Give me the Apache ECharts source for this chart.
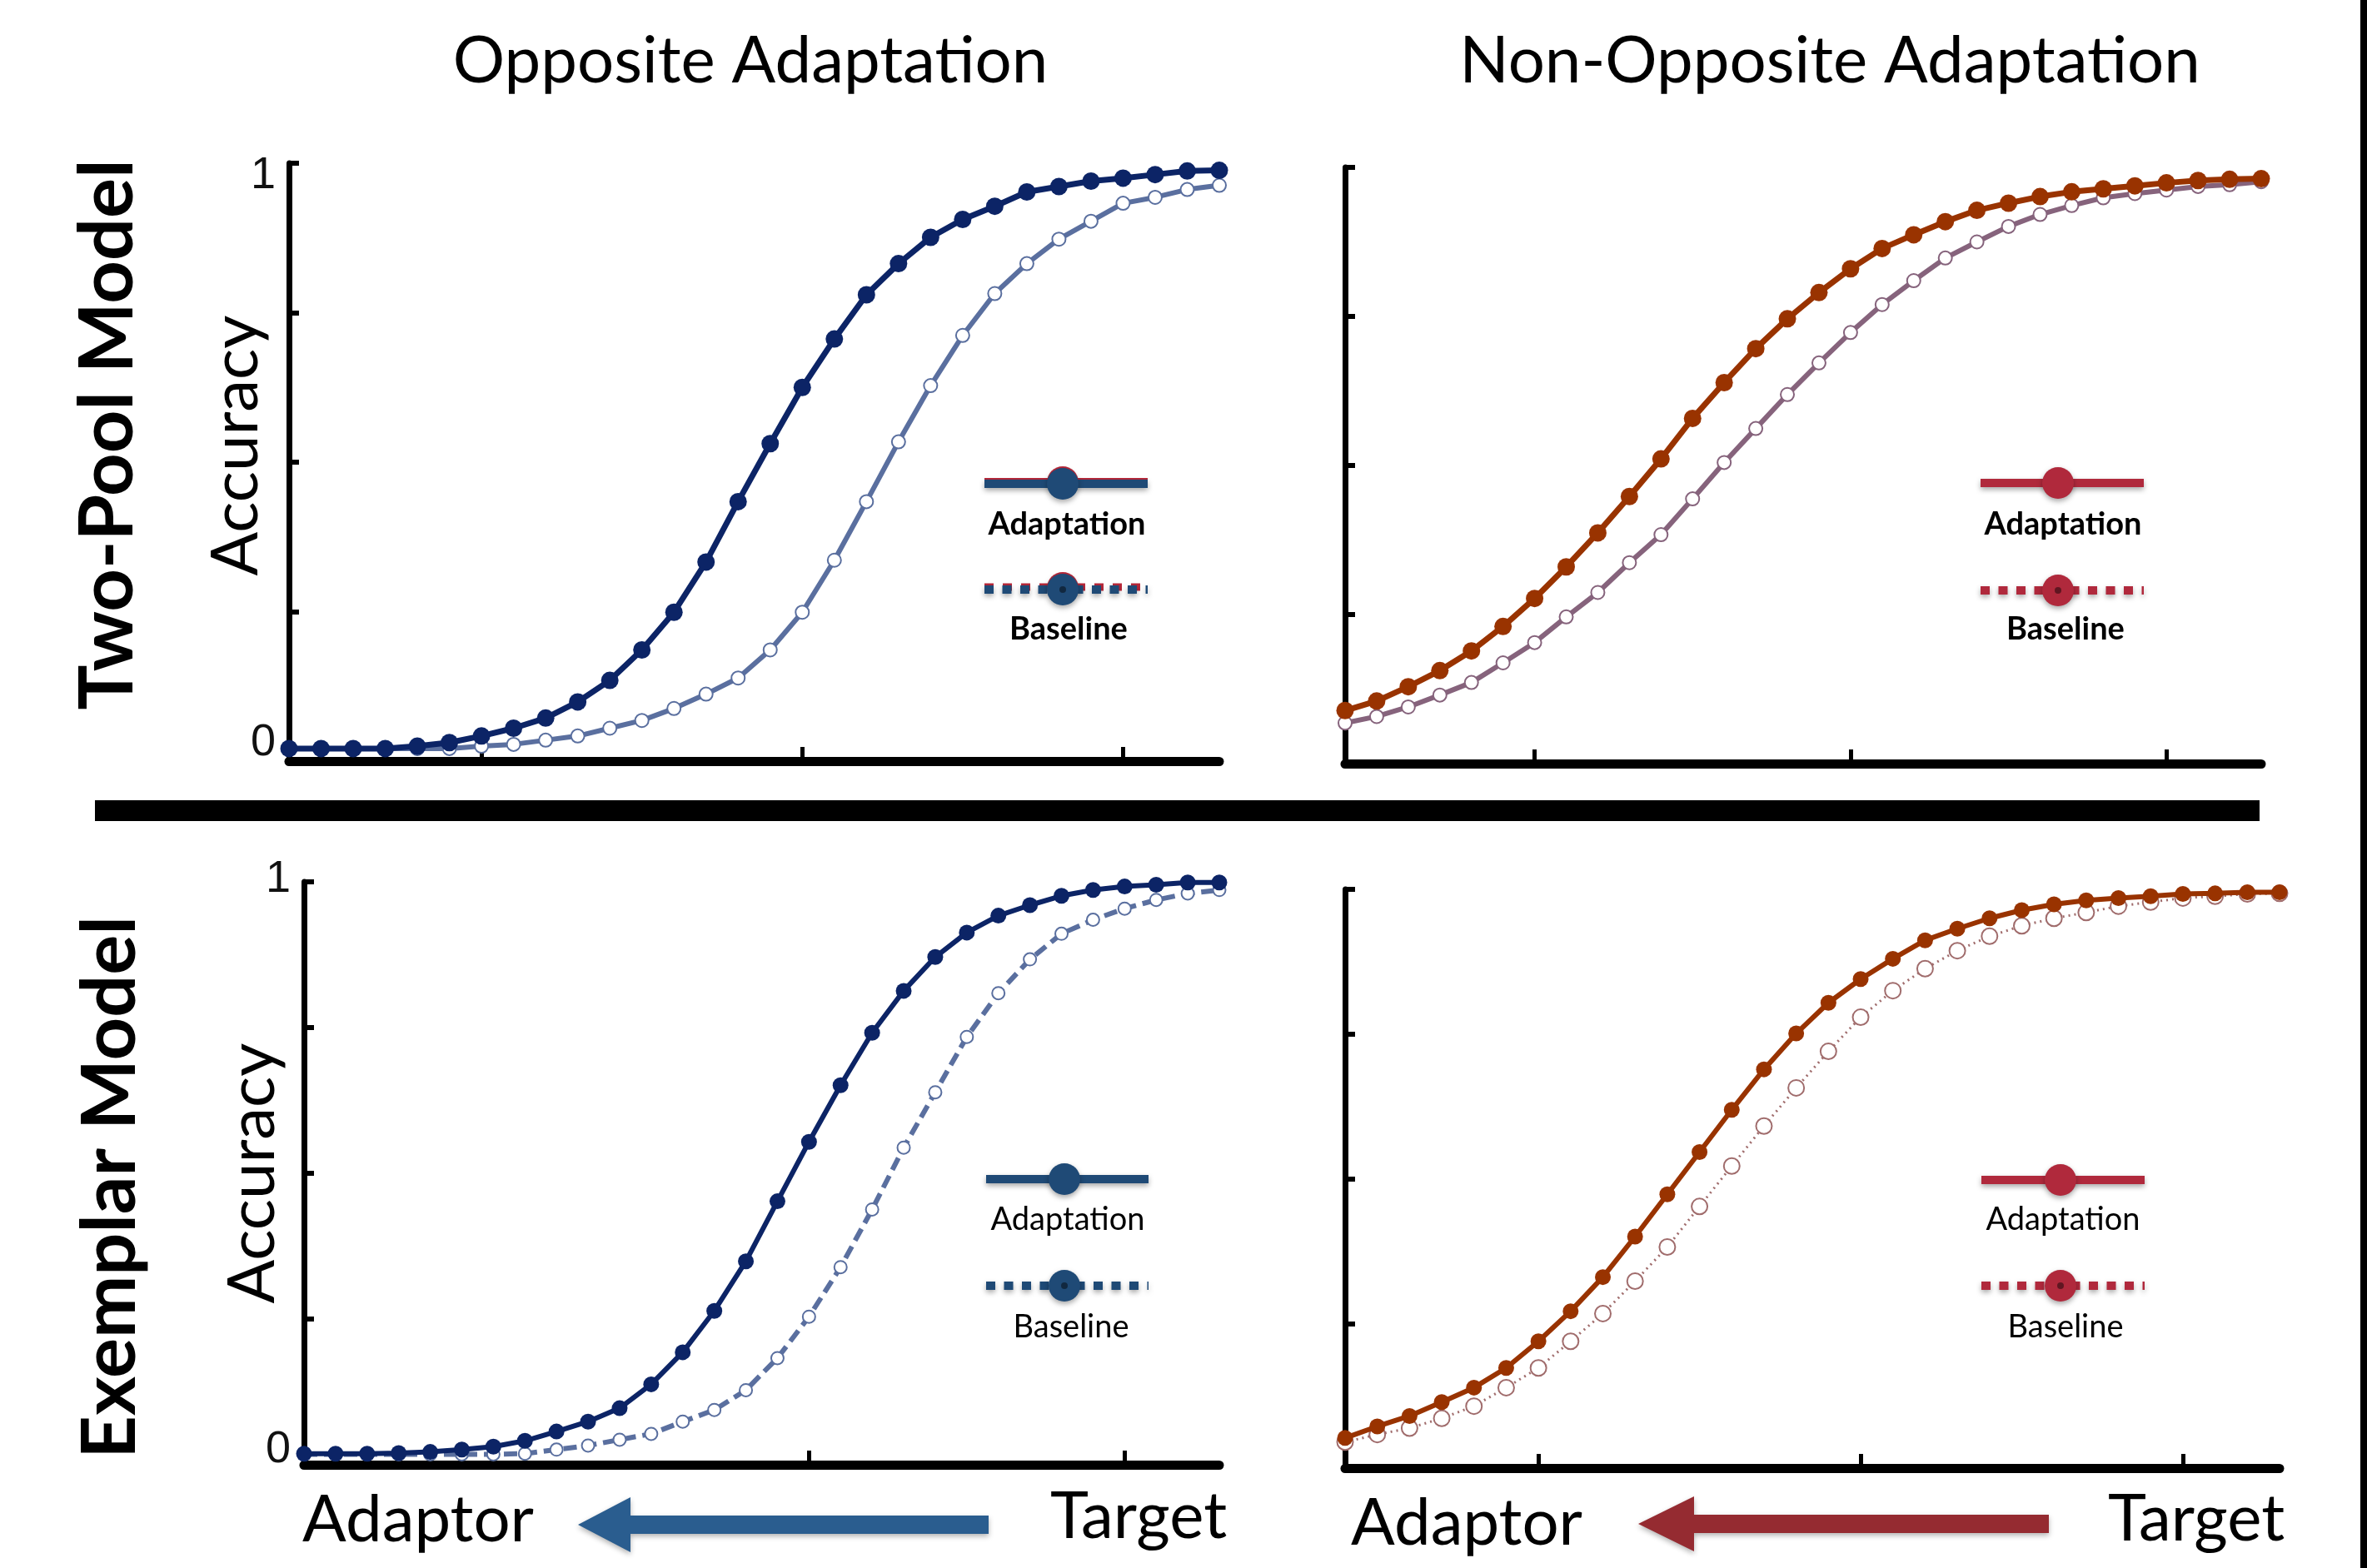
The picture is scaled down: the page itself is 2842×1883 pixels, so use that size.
<!DOCTYPE html>
<html>
<head>
<meta charset="utf-8">
<script src="https://cdn.jsdelivr.net/npm/echarts@6/dist/echarts.min.js"></script>
<style>
html,body{margin:0;padding:0;background:#fff;}
#chart{width:2842px;height:1883px;}
</style>
</head>
<body>
<div id="chart"></div>
<script>
// stimulus steps along the morph continuum (adaptor -> target)
var steps = [1, 2, 3, 4, 5, 6, 7, 8, 9, 10, 11, 12, 13, 14, 15, 16, 17, 18, 19, 20, 21, 22, 23, 24, 25, 26, 27, 28, 29, 30];
var tickSteps = [7, 17, 27];
var yTickLabels = [0, 1];

// two-pool model
var twoPoolOppAdapt = [0.021, 0.021, 0.021, 0.021, 0.025, 0.031, 0.042, 0.055, 0.072, 0.099, 0.135, 0.186, 0.249, 0.333, 0.434, 0.531, 0.625, 0.706, 0.780, 0.832, 0.876, 0.906, 0.928, 0.952, 0.961, 0.970, 0.975, 0.981, 0.987, 0.988];
var twoPoolOppBase = [0.021, 0.021, 0.021, 0.021, 0.021, 0.021, 0.025, 0.028, 0.035, 0.042, 0.055, 0.068, 0.088, 0.112, 0.139, 0.186, 0.249, 0.336, 0.434, 0.534, 0.628, 0.712, 0.782, 0.832, 0.873, 0.903, 0.933, 0.943, 0.956, 0.963];
var twoPoolNonAdapt = [0.089, 0.105, 0.129, 0.156, 0.189, 0.230, 0.277, 0.330, 0.387, 0.448, 0.511, 0.579, 0.639, 0.696, 0.746, 0.790, 0.830, 0.864, 0.887, 0.909, 0.928, 0.940, 0.951, 0.959, 0.964, 0.969, 0.974, 0.978, 0.980, 0.981];
var twoPoolNonBase = [0.068, 0.079, 0.095, 0.115, 0.136, 0.169, 0.203, 0.246, 0.287, 0.337, 0.384, 0.444, 0.505, 0.562, 0.619, 0.672, 0.723, 0.770, 0.810, 0.848, 0.875, 0.901, 0.921, 0.936, 0.949, 0.956, 0.962, 0.968, 0.971, 0.976];

// exemplar model
var exemplarOppAdapt = [0.019, 0.019, 0.019, 0.020, 0.022, 0.026, 0.031, 0.041, 0.057, 0.074, 0.097, 0.138, 0.193, 0.264, 0.349, 0.452, 0.554, 0.651, 0.741, 0.813, 0.871, 0.913, 0.942, 0.960, 0.976, 0.986, 0.992, 0.995, 0.999, 0.999];
var exemplarOppBase = [0.018, 0.018, 0.018, 0.018, 0.018, 0.018, 0.018, 0.019, 0.026, 0.033, 0.043, 0.053, 0.074, 0.094, 0.128, 0.183, 0.254, 0.339, 0.438, 0.544, 0.639, 0.734, 0.809, 0.867, 0.911, 0.935, 0.954, 0.969, 0.980, 0.986];
var exemplarNonAdapt = [0.052, 0.072, 0.090, 0.114, 0.139, 0.173, 0.219, 0.271, 0.330, 0.400, 0.473, 0.546, 0.619, 0.689, 0.751, 0.804, 0.845, 0.880, 0.912, 0.932, 0.950, 0.964, 0.974, 0.981, 0.985, 0.988, 0.992, 0.993, 0.995, 0.995];
var exemplarNonBase = [0.045, 0.058, 0.069, 0.086, 0.107, 0.139, 0.173, 0.219, 0.267, 0.323, 0.382, 0.452, 0.522, 0.591, 0.657, 0.720, 0.779, 0.825, 0.863, 0.894, 0.919, 0.937, 0.950, 0.960, 0.971, 0.978, 0.985, 0.988, 0.992, 0.993];

var chart = echarts.init(document.getElementById('chart'));

var panels = [
	{left: 347, top: 196, width: 1117, height: 718, labels: true, one: [30, 0, 0, 0], zero: [0, 0, 44, 0], nameGap: 24, namePad: [0, 0, 0, 40]},
	{left: 1615, top: 201, width: 1100, height: 716, labels: false},
	{left: 365, top: 1059, width: 1099, height: 700, labels: true, one: [0, 0, 6, 0], zero: [0, 0, 36, 0], nameGap: 22, namePad: [0, 0, 0, 0]},
	{left: 1615, top: 1068, width: 1122, height: 695, labels: false}
];

var grids = [], xAxes = [], yAxes = [];
panels.forEach(function(p, i) {
	grids.push({left: p.left, top: p.top, width: p.width, height: p.height});
	xAxes.push({
		type: 'category',
		gridIndex: i,
		data: steps,
		boundaryGap: false,
		axisLine: {lineStyle: {color: '#000', width: 11}},
		axisTick: {
			show: true,
			inside: true,
			length: 17,
			lineStyle: {color: '#000', width: 5},
			interval: function(idx, val) { return tickSteps.indexOf(Number(val)) >= 0; }
		},
		axisLabel: {show: false},
		splitLine: {show: false}
	});
	yAxes.push({
		type: 'value',
		gridIndex: i,
		min: 0,
		max: 1,
		interval: 0.25,
		name: p.labels ? 'Accuracy' : '',
		nameLocation: 'middle',
		nameRotate: 90,
		nameGap: p.nameGap || 0,
		nameMoveOverlap: false,
		nameTextStyle: {fontFamily: 'Lato', fontSize: 78, color: '#000', padding: p.namePad || 0},
		axisLine: {show: true, lineStyle: {color: '#000', width: 7}},
		axisTick: {show: true, inside: true, length: 12, lineStyle: {color: '#000', width: 6}},
		axisLabel: {
			show: p.labels,
			margin: 16,
			fontFamily: 'Liberation Sans',
			fontSize: 54,
			color: '#111',
			formatter: function(v) {
				if (yTickLabels.indexOf(v) < 0) return '';
				return v === 1 ? '{one|1}' : '{zero|0}';
			},
			rich: {
				one: {padding: p.one || [0, 0, 0, 0], fontSize: 54, fontFamily: 'Liberation Sans', color: '#111'},
				zero: {padding: p.zero || [0, 0, 0, 0], fontSize: 54, fontFamily: 'Liberation Sans', color: '#111'}
			}
		},
		splitLine: {show: false}
	});
});

function filled(name, data, idx, color, width, size) {
	return {
		name: name, type: 'line', xAxisIndex: idx, yAxisIndex: idx, data: data,
		symbol: 'circle', symbolSize: size, clip: false,
		itemStyle: {color: color},
		lineStyle: {color: color, width: width},
		z: 4
	};
}
function hollow(name, data, idx, color, width, dash, size, border) {
	return {
		name: name, type: 'line', xAxisIndex: idx, yAxisIndex: idx, data: data,
		symbol: 'emptyCircle', symbolSize: size, clip: false,
		itemStyle: {color: color, borderColor: color, borderWidth: border},
		lineStyle: {color: color, width: width, type: dash},
		z: 3
	};
}

var navy = '#0c2466', slate = '#5a6f9f', rust = '#993300', mauve = '#86637c', rose = '#a06c6c';

var series = [
	hollow('Baseline', twoPoolOppBase, 0, slate, 6, 'solid', 16, 3),
	filled('Adaptation', twoPoolOppAdapt, 0, navy, 7, 21),
	hollow('Baseline', twoPoolNonBase, 1, mauve, 6, 'solid', 16, 3),
	filled('Adaptation', twoPoolNonAdapt, 1, rust, 7, 21),
	hollow('Baseline', exemplarOppBase, 2, slate, 6, [16, 8], 15, 3),
	filled('Adaptation', exemplarOppAdapt, 2, navy, 6, 19),
	hollow('Baseline', exemplarNonBase, 3, rose, 3, [2, 5], 19, 3.5),
	filled('Adaptation', exemplarNonAdapt, 3, rust, 6, 19)
];

// legend keys drawn as in the figure: line + marker, label underneath
function legendKey(x0, x1, cx, lineY, dotY, color, bold, redEdge, textAdY, textBaseY, textX) {
	var shadow = {shadowBlur: 6, shadowColor: 'rgba(0,0,0,0.35)', shadowOffsetY: 3};
	var els = [];
	if (redEdge) {
		els.push({type: 'rect', shape: {x: x0, y: lineY - 7, width: x1 - x0, height: 9}, style: {fill: '#b8283a'}});
		els.push({type: 'circle', shape: {cx: cx, cy: lineY - 2, r: 19}, style: {fill: '#b8283a'}});
		els.push({type: 'line', shape: {x1: x0, y1: dotY - 3, x2: x1, y2: dotY - 3}, style: {stroke: '#b8283a', lineWidth: 9, lineDash: [11, 11]}});
		els.push({type: 'circle', shape: {cx: cx, cy: dotY - 2, r: 19}, style: {fill: '#b8283a'}});
	}
	els.push({type: 'rect', shape: {x: x0, y: lineY - 5, width: x1 - x0, height: 10}, style: Object.assign({fill: color}, shadow)});
	els.push({type: 'circle', shape: {cx: cx, cy: lineY, r: 19}, style: Object.assign({fill: color}, shadow)});
	els.push({type: 'line', shape: {x1: x0, y1: dotY, x2: x1, y2: dotY}, style: Object.assign({stroke: color, lineWidth: 10, lineDash: [11, 10.5]}, shadow)});
	els.push({type: 'circle', shape: {cx: cx, cy: dotY, r: 19}, style: Object.assign({fill: color}, shadow)});
	els.push({type: 'circle', shape: {cx: cx, cy: dotY, r: 4}, style: {fill: 'rgba(0,0,0,0.45)'}});
	var ts = {fill: '#000', fontFamily: 'Lato', fontSize: 38, fontWeight: bold ? 'bold' : 'normal', align: 'center', verticalAlign: 'middle'};
	if (bold) { ts.shadowBlur = 3; ts.shadowColor = 'rgba(0,0,0,0.45)'; ts.shadowOffsetX = 2; ts.shadowOffsetY = 2; }
	els.push({type: 'text', x: textX[0], y: textAdY, style: Object.assign({text: 'Adaptation'}, ts)});
	els.push({type: 'text', x: textX[1], y: textBaseY, style: Object.assign({text: 'Baseline'}, ts)});
	return els;
}

function arrow(tipX, endX, cy, headLen, headHalf, shaftHalf, color) {
	return {
		type: 'polygon',
		shape: {points: [
			[tipX, cy], [tipX + headLen, cy - headHalf], [tipX + headLen, cy - shaftHalf],
			[endX, cy - shaftHalf], [endX, cy + shaftHalf], [tipX + headLen, cy + shaftHalf],
			[tipX + headLen, cy + headHalf]
		]},
		style: {fill: color, shadowBlur: 6, shadowColor: 'rgba(0,0,0,0.3)', shadowOffsetY: 3}
	};
}

function txt(s, x, y, size, weight, rot) {
	return {
		type: 'text', x: x, y: y, rotation: rot || 0,
		style: {text: s, fill: '#000', fontFamily: 'Lato', fontSize: size, fontWeight: weight || 'normal', align: 'center', verticalAlign: 'middle'}
	};
}

var graphics = [
	txt('Opposite Adaptation', 901, 74, 78),
	txt('Non-Opposite Adaptation', 2197, 74, 78),
	txt('Two-Pool Model', 130, 522, 90, 'bold', Math.PI / 2),
	txt('Exemplar Model', 133, 1426, 90, 'bold', Math.PI / 2),
	txt('Adaptor', 502, 1826, 78),
	txt('Target', 1367, 1822, 78),
	txt('Adaptor', 1761, 1830, 78),
	txt('Target', 2637, 1825, 78),
	arrow(694, 1187, 1831, 63, 33, 11, '#2a5d8f'),
	arrow(1967, 2460, 1830, 67, 33, 11, '#952b31'),
	{type: 'rect', shape: {x: 114, y: 961, width: 2599, height: 25}, style: {fill: '#000'}},
	{type: 'rect', shape: {x: 2834, y: 0, width: 8, height: 1883}, style: {fill: '#000'}}
];
graphics = graphics
	.concat(legendKey(1182, 1378, 1276, 581, 708, '#1f4a76', true, true, 630, 756, [1281, 1283]))
	.concat(legendKey(2378, 2574, 2471, 580, 709, '#b0293c', true, false, 630, 756, [2477, 2480]))
	.concat(legendKey(1184, 1379, 1278, 1416, 1544, '#1f4a76', false, false, 1465, 1594, [1282, 1286]))
	.concat(legendKey(2379, 2575, 2474, 1417, 1544, '#b0293c', false, false, 1465, 1594, [2477, 2480]));

chart.setOption({
	backgroundColor: '#fff',
	animation: false,
	grid: grids,
	xAxis: xAxes,
	yAxis: yAxes,
	series: series,
	graphic: graphics
});
</script>
</body>
</html>
